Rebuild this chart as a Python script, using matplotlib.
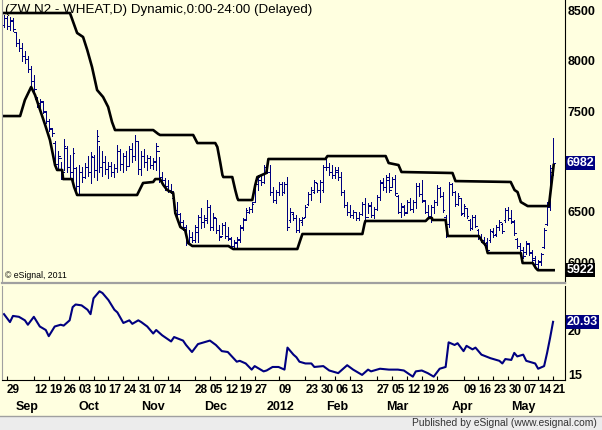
import numpy as np
import pandas as pd
import matplotlib
matplotlib.use("Agg")
from matplotlib import pyplot as plt
from matplotlib import transforms

plt.rcParams['font.family'] = ['Liberation Sans', 'DejaVu Sans']

# trading calendar (CBOT holidays removed)
START, END = '2011-08-26', '2012-05-21'
HOLIDAYS = ['2011-09-05', '2011-11-24', '2011-12-26', '2012-01-02',
            '2012-01-16', '2012-02-20', '2012-04-06']

# daily bars
OPEN = [8350, 8420, 8340, 8390, 8280, 8180, 8130, 8050, 8020, 7920,
        7800, 7620, 7580, 7590, 7490, 7400, 7320, 7180, 6980, 7030,
        6900, 7130, 6950, 6900, 6940, 6760, 6900, 6850, 6950, 6900,
        7040, 6920, 7200, 6950, 7000, 6930, 6960, 6900, 6940, 7100,
        6980, 7050, 6960, 7120, 7050, 7200, 6930, 7050, 7000, 7030,
        6970, 7000, 7100, 6850, 6820, 6760, 6720, 6640, 6520, 6480,
        6400, 6350, 6200, 6250, 6220, 6300, 6450, 6400, 6420, 6550,
        6350, 6440, 6320, 6260, 6370, 6260, 6230, 6160, 6190, 6220,
        6340, 6430, 6500, 6530, 6600, 6780, 6820, 6800, 6950, 6900,
        6700, 6620, 6700, 6780, 6700, 6780, 6420, 6480, 6440, 6320,
        6400, 6450, 6580, 6680, 6700, 6790, 6720, 6720, 6950, 6950,
        6900, 6870, 6900, 6850, 6700, 6570, 6500, 6470, 6500, 6440,
        6480, 6580, 6450, 6560, 6470, 6530, 6650, 6790, 6750, 6820,
        6750, 6830, 6660, 6500, 6550, 6500, 6600, 6530, 6600, 6760,
        6680, 6610, 6500, 6460, 6550, 6600, 6740, 6660, 6450, 6380,
        6780, 6700, 6580, 6640, 6490, 6540, 6420, 6340, 6450, 6320,
        6250, 6220, 6200, 6220, 6300, 6280, 6350, 6380, 6420, 6520,
        6440, 6400, 6230, 6160, 6120, 6100, 6180, 6100, 6040, 5980,
        6000, 6150, 6380, 6550, 6900]
HIGH = [8450, 8440, 8430, 8420, 8280, 8220, 8175, 8100, 8050, 7950,
        7860, 7640, 7620, 7600, 7500, 7420, 7330, 7200, 7100, 7000,
        7220, 7150, 7060, 7135, 6945, 6965, 6945, 6990, 7050, 7095,
        7060, 7310, 7150, 7100, 7050, 6995, 7000, 6980, 7165, 7120,
        7080, 7100, 7150, 7180, 7260, 7200, 7100, 7120, 7060, 7050,
        7030, 7185, 7045, 6900, 6840, 6820, 6780, 6650, 6600, 6490,
        6420, 6370, 6320, 6300, 6370, 6470, 6540, 6470, 6620, 6570,
        6490, 6440, 6370, 6390, 6400, 6350, 6250, 6220, 6250, 6370,
        6440, 6540, 6550, 6600, 6815, 6865, 6865, 6965, 7015, 6965,
        6745, 6715, 6795, 6795, 6795, 6845, 6540, 6500, 6470, 6440,
        6450, 6570, 6695, 6745, 6815, 6785, 6815, 6965, 7035, 6985,
        6965, 6945, 6945, 6895, 6715, 6600, 6570, 6520, 6500, 6500,
        6600, 6640, 6590, 6600, 6550, 6670, 6815, 6835, 6865, 6885,
        6845, 6865, 6670, 6590, 6570, 6620, 6640, 6620, 6785, 6785,
        6815, 6620, 6570, 6570, 6620, 6765, 6745, 6695, 6470, 6795,
        6785, 6705, 6685, 6640, 6580, 6540, 6430, 6470, 6470, 6330,
        6280, 6250, 6240, 6330, 6340, 6370, 6420, 6390, 6540, 6550,
        6520, 6420, 6240, 6190, 6150, 6210, 6190, 6120, 6060, 6020,
        6090, 6340, 6600, 6965, 7233]
LOW = [8330, 8310, 8300, 8290, 8150, 8100, 8000, 7980, 7890, 7760,
       7700, 7540, 7520, 7480, 7380, 7300, 7250, 6950, 6920, 6830,
       6920, 6900, 6830, 6820, 6720, 6670, 6800, 6840, 6860, 6790,
       6850, 6820, 6900, 6860, 6880, 6840, 6860, 6850, 6900, 6920,
       6900, 6920, 6960, 7000, 7015, 6880, 6870, 6950, 6920, 6940,
       6930, 6915, 6800, 6780, 6720, 6700, 6690, 6490, 6440, 6350,
       6320, 6170, 6190, 6200, 6200, 6200, 6340, 6350, 6390, 6320,
       6320, 6290, 6220, 6280, 6240, 6220, 6140, 6130, 6140, 6200,
       6320, 6420, 6490, 6500, 6600, 6715, 6765, 6785, 6885, 6670,
       6600, 6590, 6670, 6670, 6690, 6320, 6400, 6420, 6300, 6300,
       6370, 6450, 6570, 6620, 6690, 6700, 6600, 6700, 6915, 6865,
       6835, 6835, 6815, 6670, 6550, 6470, 6450, 6440, 6420, 6420,
       6470, 6400, 6490, 6450, 6440, 6520, 6620, 6715, 6700, 6700,
       6745, 6670, 6490, 6450, 6470, 6490, 6520, 6500, 6540, 6660,
       6600, 6490, 6440, 6400, 6490, 6570, 6650, 6500, 6250, 6350,
       6670, 6560, 6570, 6470, 6460, 6440, 6320, 6330, 6350, 6230,
       6200, 6170, 6100, 6200, 6250, 6260, 6320, 6290, 6400, 6420,
       6390, 6270, 6140, 6100, 6040, 6080, 6070, 6000, 5960, 5922,
       5970, 6140, 6370, 6520, 6865]
CLOSE = [8420, 8340, 8400, 8310, 8180, 8130, 8050, 8020, 7920, 7800,
         7720, 7580, 7600, 7500, 7400, 7330, 7280, 6980, 7050, 6880,
         7150, 6950, 6900, 7080, 6760, 6900, 6850, 6950, 6900, 7050,
         6920, 7250, 6950, 7000, 6930, 6960, 6900, 6940, 7100, 6980,
         7050, 6960, 7120, 7050, 7200, 6930, 7050, 7000, 7030, 6970,
         7010, 7150, 6850, 6820, 6760, 6720, 6710, 6520, 6480, 6400,
         6350, 6200, 6250, 6220, 6350, 6450, 6400, 6440, 6550, 6350,
         6450, 6320, 6250, 6370, 6260, 6240, 6160, 6200, 6230, 6350,
         6420, 6520, 6530, 6580, 6800, 6850, 6800, 6950, 6900, 6700,
         6620, 6700, 6780, 6700, 6780, 6350, 6500, 6440, 6320, 6420,
         6440, 6550, 6680, 6720, 6800, 6720, 6800, 6950, 6950, 6900,
         6870, 6920, 6850, 6700, 6570, 6500, 6470, 6500, 6440, 6480,
         6580, 6450, 6570, 6470, 6530, 6650, 6800, 6750, 6850, 6720,
         6830, 6690, 6500, 6560, 6490, 6600, 6530, 6600, 6760, 6680,
         6620, 6500, 6460, 6550, 6600, 6740, 6660, 6520, 6280, 6780,
         6700, 6580, 6660, 6480, 6560, 6460, 6340, 6450, 6360, 6250,
         6220, 6190, 6120, 6310, 6270, 6350, 6400, 6310, 6520, 6440,
         6410, 6290, 6160, 6120, 6060, 6190, 6090, 6020, 5980, 6010,
         6080, 6320, 6580, 6940, 6982]

# channel lines (bar index, price)
UPPER_IDX = [0, 22.1, 24.5, 26.5, 27.9, 29.5, 31.2, 33.2, 34.9, 36.2,
             37.2, 50, 51.7, 52.3, 63.4, 64.8, 70.8, 71.5, 72.5, 73.2,
             73.5, 76.5, 77.5, 78.2, 78.5, 83.2, 84.2, 84.9, 87.9, 88.6,
             107.7, 108.4, 127.9, 128.9, 132.2, 133.2, 150.3, 151.3, 169.8, 171.1,
             172.1, 173.2, 175.5, 182.6, 184.2]
UPPER_VAL = [8473, 8473, 8275, 8235, 8106, 7937, 7709, 7640, 7541, 7392,
             7312, 7312, 7273, 7263, 7263, 7183, 7183, 7144, 6985, 6866,
             6846, 6846, 6717, 6638, 6618, 6618, 6767, 6846, 6886, 7025,
             7025, 7054, 7054, 6985, 6965, 6896, 6886, 6806, 6797, 6717,
             6697, 6598, 6558, 6558, 6965]
LOWER_IDX = [0, 5.4, 7.0, 9.1, 10.4, 12.1, 13.8, 15.4, 17.1, 17.8,
             19.5, 19.8, 22.8, 23.5, 24.5, 44.6, 46.6, 50, 50.7, 52.3,
             53.4, 54.7, 56.7, 57.4, 59.1, 60.7, 61.7, 63.1, 75.2, 76.8,
             98.3, 99.3, 100, 120.1, 120.8, 121.1, 141.3, 142.3, 143.4, 143.6,
             148, 148.7, 159.1, 160.4, 161.4, 162.1, 173.2, 173.8, 177.2, 178.2,
             178.9, 184.2]
LOWER_VAL = [7451, 7451, 7610, 7739, 7660, 7511, 7362, 7213, 6965, 6916,
             6916, 6826, 6826, 6747, 6668, 6668, 6787, 6797, 6826, 6826,
             6767, 6717, 6687, 6489, 6350, 6320, 6191, 6162, 6162, 6132,
             6132, 6221, 6281, 6281, 6380, 6410, 6410, 6440, 6440, 6420,
             6420, 6261, 6261, 6201, 6172, 6092, 6092, 5993, 5993, 5944,
             5922, 5922]

# lower study (bar index, value)
HV_IDX = [0, 2, 3, 5, 7, 8, 10, 12, 14, 15, 17, 19, 20, 22, 23, 24, 26, 28, 29, 30,
          32, 33, 35, 37, 38, 40, 42, 43, 45, 46, 48, 50, 51, 53, 56, 57, 60, 61, 63, 65,
          67, 69, 71, 73, 75, 78, 79, 81, 83, 84, 87, 88, 90, 92, 94, 95, 97, 98, 99, 101,
          103, 104, 107, 109, 112, 115, 117, 120, 122, 123, 126, 129, 132, 134, 137, 138, 140, 142, 144, 146,
          148, 149, 151, 152, 154, 155, 157, 158, 160, 163, 166, 167, 168, 170, 171, 172, 174, 175, 178, 179,
          181, 182, 183, 184]
HV_VAL = [21.8, 20.9, 21.6, 21.5, 21.1, 20.6, 21.5, 20.4, 20.0, 19.3, 20.4, 20.6, 20.5, 21.1, 22.6, 22.9, 22.8, 22.3, 21.8, 23.6,
          24.4, 24.2, 23.4, 22.3, 22.0, 20.8, 21.1, 20.7, 21.1, 20.9, 20.4, 19.6, 20.0, 19.4, 18.7, 19.2, 18.8, 18.3, 17.5, 18.4,
          18.6, 18.8, 18.3, 17.6, 17.5, 16.4, 16.5, 16.2, 15.5, 15.9, 15.3, 15.4, 15.8, 15.8, 15.5, 18.0, 17.2, 16.9, 16.4, 16.2,
          16.2, 15.8, 15.9, 15.4, 15.1, 16.0, 15.5, 14.9, 15.5, 15.3, 15.6, 15.5, 15.5, 15.4, 14.7, 15.3, 15.4, 15.1, 14.7, 15.6,
          15.8, 18.6, 18.3, 18.5, 17.6, 18.2, 17.8, 18.0, 17.2, 16.8, 16.5, 16.2, 16.7, 16.6, 17.4, 17.0, 17.2, 16.5, 16.2, 15.6,
          15.9, 17.4, 19.1, 20.93]

PRICE_TICKS = [6000, 6500, 7000, 7500, 8000, 8500]
STUDY_TICKS = [15, 20]
DAY_LABELS = ['2011-08-29', '2011-09-12', '2011-09-19', '2011-09-26', '2011-10-03', '2011-10-10', '2011-10-17',
              '2011-10-24', '2011-10-31', '2011-11-07', '2011-11-14', '2011-11-28', '2011-12-05', '2011-12-12',
              '2011-12-19', '2011-12-27', '2012-01-09', '2012-01-23', '2012-01-30', '2012-02-06', '2012-02-13',
              '2012-02-27', '2012-03-05', '2012-03-12', '2012-03-19', '2012-03-26', '2012-04-09', '2012-04-16',
              '2012-04-23', '2012-04-30', '2012-05-07', '2012-05-14', '2012-05-21']
MONTH_NAMES = ['Sep', 'Oct', 'Nov', 'Dec', '2012', 'Feb', 'Mar', 'Apr', 'May']

TITLE = "(ZW N2 - WHEAT,D) Dynamic,0:00-24:00 (Delayed)"

dates = pd.bdate_range(START, END)
dates = dates[~dates.isin(pd.to_datetime(HOLIDAYS))]
x = np.arange(len(dates))

BG = '#FFFFE0'
NAVY = '#000080'
W, H = 602, 430

fig = plt.figure(figsize=(W / 100, H / 100), dpi=100, facecolor=BG)
ax1 = fig.add_axes([2 / W, 1 - 283 / H, 563 / W, 283 / H], facecolor=BG)
ax2 = fig.add_axes([2 / W, 1 - 380 / H, 563 / W, 94 / H], facecolor=BG, sharex=ax1)

# price bars, 1px wide like the original
ax1.vlines(x, LOW, HIGH, color=NAVY, lw=0.72, antialiased=False)
ax1.hlines(OPEN, x - 0.6, x, color=NAVY, lw=0.72, antialiased=False)
ax1.hlines(CLOSE, x, x + 0.6, color=NAVY, lw=0.72, antialiased=False)
ax1.plot(UPPER_IDX, UPPER_VAL, color='black', lw=1.9)
ax1.plot(LOWER_IDX, LOWER_VAL, color='black', lw=1.9)

ax1.set_xlim(-0.67, 188.0)
ax1.set_ylim(5795, 8602)
ax1.yaxis.tick_right()
ax1.set_yticks(PRICE_TICKS)
ax1.set_yticklabels([str(t) for t in PRICE_TICKS], fontweight='bold', fontsize=9)
ax1.tick_params(axis='y', length=0, pad=2)
ax1.tick_params(axis='x', bottom=False, labelbottom=False)
ax1.spines['top'].set_visible(False)
ax1.spines['right'].set_color('black')
ax1.spines['left'].set_color('#A0A0A0')
ax1.spines['bottom'].set_color('#A0A0A0')
ax1.spines['bottom'].set_linewidth(1.6)

ax1.text(3 / 563, 1 - 10 / 283, TITLE, transform=ax1.transAxes, fontsize=9.6, va='center', ha='left')
ax1.text(3 / 563, 8 / 283, '\u00a9 eSignal, 2011', transform=ax1.transAxes, fontsize=6.3, va='center', ha='left')

yr = transforms.blended_transform_factory(ax1.transAxes, ax1.transData)
ax1.text(1.003, CLOSE[-1], str(CLOSE[-1]), transform=yr, fontsize=9, fontweight='bold', color='white',
         va='center', ha='left', clip_on=False, zorder=5,
         bbox=dict(boxstyle='square,pad=0.08', fc=NAVY, ec='none'))
ax1.text(1.003, LOWER_VAL[-1], str(LOWER_VAL[-1]), transform=yr, fontsize=9, fontweight='bold', color='white',
         va='center', ha='left', clip_on=False, zorder=5,
         bbox=dict(boxstyle='square,pad=0.08', fc='black', ec='none'))

# lower study
ax2.plot(HV_IDX, HV_VAL, color=NAVY, lw=1.5)
ax2.set_ylim(14.32, 25.0)
ax2.yaxis.tick_right()
ax2.set_yticks(STUDY_TICKS)
ax2.set_yticklabels([str(t) for t in STUDY_TICKS], fontweight='bold', fontsize=9)
ax2.tick_params(axis='y', length=0, pad=2)
ax2.spines['top'].set_visible(False)
ax2.spines['left'].set_color('#A0A0A0')
yr2 = transforms.blended_transform_factory(ax2.transAxes, ax2.transData)
ax2.text(1.003, HV_VAL[-1], '%.2f' % HV_VAL[-1], transform=yr2, fontsize=9, fontweight='bold', color='white',
         va='center', ha='left', clip_on=False, zorder=5,
         bbox=dict(boxstyle='square,pad=0.08', fc=NAVY, ec='none'))

# date axis
day_idx = [dates.get_loc(pd.Timestamp(d)) for d in DAY_LABELS]
ax2.set_xticks(day_idx)
ax2.set_xticklabels([pd.Timestamp(d).strftime('%d') for d in DAY_LABELS], fontweight='bold', fontsize=8.5, ha='left')
ax2.tick_params(axis='x', direction='in', length=3, pad=3)
periods = dates.to_period('M')
month_first = [int(np.argmax(periods == p)) for p in periods.unique()[1:]]
xt = transforms.blended_transform_factory(ax2.transData, ax2.transAxes)
for name, i in zip(MONTH_NAMES, month_first):
    ax2.text(i, -27 / 94, name, transform=xt, fontsize=9, fontweight='bold', ha='left', va='center')

# footer
fig.patches.append(plt.Rectangle((0, 0), 1, 14 / H, transform=fig.transFigure, fc='#ECECEC', ec='none'))
fig.lines.append(plt.Line2D([0, 1], [14.5 / H, 14.5 / H], transform=fig.transFigure, color='#A0A0A0', lw=1))
fig.text(597 / W, 7 / H, 'Published by eSignal (www.esignal.com)', fontsize=7.4, color='#333333', ha='right', va='center')

fig.savefig('out.png', dpi=100, facecolor=BG)
